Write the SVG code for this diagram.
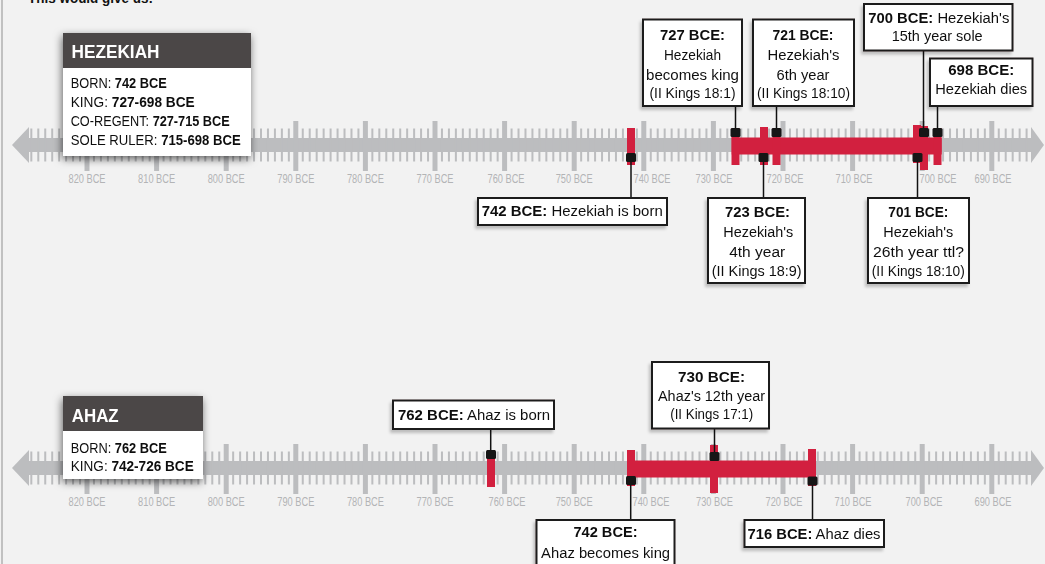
<svg xmlns="http://www.w3.org/2000/svg" xmlns:xlink="http://www.w3.org/1999/xlink" width="1045" height="564" viewBox="0 0 1045 564">
<style>
text{font-family:'Liberation Sans Narrow','Liberation Sans',Arial,sans-serif;}
.ax{font-size:12px;fill:#b3b4b6;text-anchor:middle;}
.cb{fill:#fff;stroke:#1e1c1c;stroke-width:2;}
.ct{font-size:14px;fill:#111;text-anchor:middle;}
.b{font-weight:bold;}
.hd{fill:#4b4746;}
.ht{font-size:18.5px;font-weight:bold;fill:#fff;}
.bt{font-size:14px;fill:#111;}
.red{fill:#d2203f;}
.mk{fill:#161616;}
.cn line{stroke:#111;stroke-width:1.5;}
</style>
<defs>
<filter id="sh" x="-20%" y="-30%" width="140%" height="160%">
<feDropShadow dx="-1" dy="3" stdDeviation="4" flood-color="#000" flood-opacity="0.6"/>
</filter>
<filter id="sh2" x="-20%" y="-30%" width="140%" height="160%">
<feDropShadow dx="-2" dy="3" stdDeviation="1.5" flood-color="#000" flood-opacity="0.22"/>
</filter>
<g id="axis">
<rect x="26" y="138" width="1006" height="14" fill="#bcbdbf"/>
<line x1="30.32" y1="145" x2="1028.6" y2="145" stroke="#bcbdbf" stroke-width="33" stroke-dasharray="2 4.96"/>
<line x1="84.5" y1="146" x2="994.4" y2="146" stroke="#bcbdbf" stroke-width="50" stroke-dasharray="5 64.6"/>
<polygon points="12,145 29,127 29,163" fill="#bcbdbf"/>
<polygon points="1031,127 1044,145 1031,163" fill="#bcbdbf"/>
</g>
</defs>
<rect width="1045" height="564" fill="#f2f2f2"/>
<line x1="2" y1="0" x2="2" y2="564" stroke="#a0a0a0" stroke-width="1.2"/>
<text x="28" y="2.5" class="b" font-size="14" textLength="125" lengthAdjust="spacingAndGlyphs" fill="#111">This would give us:</text>

<g id="timeline-hezekiah">
<use xlink:href="#axis"/>
<g>
<text class="ax" x="87" y="183" textLength="37" lengthAdjust="spacingAndGlyphs">820 BCE</text>
<text class="ax" x="156.6" y="183" textLength="37" lengthAdjust="spacingAndGlyphs">810 BCE</text>
<text class="ax" x="226.2" y="183" textLength="37" lengthAdjust="spacingAndGlyphs">800 BCE</text>
<text class="ax" x="295.8" y="183" textLength="37" lengthAdjust="spacingAndGlyphs">790 BCE</text>
<text class="ax" x="365.4" y="183" textLength="37" lengthAdjust="spacingAndGlyphs">780 BCE</text>
<text class="ax" x="435" y="183" textLength="37" lengthAdjust="spacingAndGlyphs">770 BCE</text>
<text class="ax" x="506" y="183" textLength="37" lengthAdjust="spacingAndGlyphs">760 BCE</text>
<text class="ax" x="574.2" y="183" textLength="37" lengthAdjust="spacingAndGlyphs">750 BCE</text>
<text class="ax" x="652" y="183" textLength="37" lengthAdjust="spacingAndGlyphs">740 BCE</text>
<text class="ax" x="714" y="183" textLength="37" lengthAdjust="spacingAndGlyphs">730 BCE</text>
<text class="ax" x="785" y="183" textLength="37" lengthAdjust="spacingAndGlyphs">720 BCE</text>
<text class="ax" x="854" y="183" textLength="37" lengthAdjust="spacingAndGlyphs">710 BCE</text>
<text class="ax" x="938" y="183" textLength="37" lengthAdjust="spacingAndGlyphs">700 BCE</text>
<text class="ax" x="993" y="183" textLength="37" lengthAdjust="spacingAndGlyphs">690 BCE</text>
</g>
<rect class="red" x="731.7" y="137.5" width="210" height="17"/>
<rect class="red" x="627" y="128" width="8" height="37"/>
<rect class="red" x="731.5" y="128" width="8" height="37"/>
<rect class="red" x="760" y="127" width="8" height="38"/>
<rect class="red" x="772.5" y="128" width="8" height="37"/>
<rect class="red" x="913" y="125" width="8" height="38"/>
<rect class="red" x="920" y="126" width="8" height="44"/>
<rect class="red" x="933.5" y="128" width="8" height="37"/>
<rect class="mk" x="626" y="153" width="10" height="9" rx="1.5"/>
<rect class="mk" x="730.5" y="128" width="10" height="9" rx="1.5"/>
<rect class="mk" x="758.5" y="153" width="10" height="9" rx="1.5"/>
<rect class="mk" x="771.5" y="128" width="10" height="9" rx="1.5"/>
<rect class="mk" x="912.5" y="153" width="10" height="9" rx="1.5"/>
<rect class="mk" x="919" y="128" width="10" height="9" rx="1.5"/>
<rect class="mk" x="932.5" y="128" width="10" height="9" rx="1.5"/>
</g>

<g id="timeline-ahaz">
<use xlink:href="#axis" transform="translate(0,323)"/>
<g>
<text class="ax" x="87" y="506" textLength="37" lengthAdjust="spacingAndGlyphs">820 BCE</text>
<text class="ax" x="156.6" y="506" textLength="37" lengthAdjust="spacingAndGlyphs">810 BCE</text>
<text class="ax" x="226.2" y="506" textLength="37" lengthAdjust="spacingAndGlyphs">800 BCE</text>
<text class="ax" x="295.8" y="506" textLength="37" lengthAdjust="spacingAndGlyphs">790 BCE</text>
<text class="ax" x="365.4" y="506" textLength="37" lengthAdjust="spacingAndGlyphs">780 BCE</text>
<text class="ax" x="435" y="506" textLength="37" lengthAdjust="spacingAndGlyphs">770 BCE</text>
<text class="ax" x="507" y="506" textLength="37" lengthAdjust="spacingAndGlyphs">760 BCE</text>
<text class="ax" x="574.2" y="506" textLength="37" lengthAdjust="spacingAndGlyphs">750 BCE</text>
<text class="ax" x="651" y="506" textLength="37" lengthAdjust="spacingAndGlyphs">740 BCE</text>
<text class="ax" x="714.5" y="506" textLength="37" lengthAdjust="spacingAndGlyphs">730 BCE</text>
<text class="ax" x="784" y="506" textLength="37" lengthAdjust="spacingAndGlyphs">720 BCE</text>
<text class="ax" x="853" y="506" textLength="37" lengthAdjust="spacingAndGlyphs">710 BCE</text>
<text class="ax" x="924" y="506" textLength="37" lengthAdjust="spacingAndGlyphs">700 BCE</text>
<text class="ax" x="993" y="506" textLength="37" lengthAdjust="spacingAndGlyphs">690 BCE</text>
</g>
<rect class="red" x="627" y="460.5" width="189" height="17"/>
<rect class="red" x="487" y="450" width="8" height="37"/>
<rect class="red" x="627" y="450" width="8" height="36"/>
<rect class="red" x="710" y="445" width="8" height="48"/>
<rect class="red" x="808" y="449" width="8" height="37"/>
<rect class="mk" x="486" y="450" width="10" height="9" rx="1.5"/>
<rect class="mk" x="626" y="476" width="10" height="9" rx="1.5"/>
<rect class="mk" x="709.5" y="452" width="10" height="9" rx="1.5"/>
<rect class="mk" x="807.5" y="476.5" width="10" height="9" rx="1.5"/>
</g>

<g id="connectors" class="cn">
<line x1="631" y1="162" x2="631" y2="198"/>
<line x1="735.5" y1="106" x2="735.5" y2="128"/>
<line x1="763.5" y1="162" x2="763.5" y2="198"/>
<line x1="776.5" y1="106" x2="776.5" y2="128"/>
<line x1="917.5" y1="162" x2="917.5" y2="198"/>
<line x1="923.5" y1="50.5" x2="923.5" y2="128"/>
<line x1="937.5" y1="106" x2="937.5" y2="128"/>
<line x1="490.7" y1="429" x2="490.7" y2="450"/>
<line x1="630.7" y1="485" x2="630.7" y2="520"/>
<line x1="714.5" y1="428.5" x2="714.5" y2="452"/>
<line x1="812.5" y1="485" x2="812.5" y2="520"/>
</g>

<g id="ev-727" filter="url(#sh2)">
<rect class="cb" x="643" y="19.5" width="99" height="86.5"/>
<text class="ct b" x="692.5" y="39.5" textLength="65" lengthAdjust="spacingAndGlyphs">727 BCE:</text>
<text class="ct" x="692.5" y="60" textLength="57" lengthAdjust="spacingAndGlyphs">Hezekiah</text>
<text class="ct" x="692.5" y="80" textLength="93" lengthAdjust="spacingAndGlyphs">becomes king</text>
<text class="ct" x="692.5" y="98" textLength="86" lengthAdjust="spacingAndGlyphs">(II Kings 18:1)</text>
</g>
<g id="ev-721" filter="url(#sh2)">
<rect class="cb" x="753" y="19.5" width="101" height="86.5"/>
<text class="ct b" x="803" y="39.5" textLength="61" lengthAdjust="spacingAndGlyphs">721 BCE:</text>
<text class="ct" x="803.5" y="60" textLength="72" lengthAdjust="spacingAndGlyphs">Hezekiah's</text>
<text class="ct" x="803" y="80" textLength="53" lengthAdjust="spacingAndGlyphs">6th year</text>
<text class="ct" x="803.5" y="98" textLength="93" lengthAdjust="spacingAndGlyphs">(II Kings 18:10)</text>
</g>
<g id="ev-700" filter="url(#sh2)">
<rect class="cb" x="864" y="4" width="148.5" height="46.5"/>
<text class="ct" x="938.8" y="22.5" textLength="141" lengthAdjust="spacingAndGlyphs"><tspan class="b">700 BCE:</tspan> Hezekiah's</text>
<text class="ct" x="937.2" y="41" textLength="91" lengthAdjust="spacingAndGlyphs">15th year sole</text>
</g>
<g id="ev-698" filter="url(#sh2)">
<rect class="cb" x="930" y="58.5" width="102.5" height="47.5"/>
<text class="ct b" x="981.2" y="74.5" textLength="66" lengthAdjust="spacingAndGlyphs">698 BCE:</text>
<text class="ct" x="981.2" y="93.5" textLength="92" lengthAdjust="spacingAndGlyphs">Hezekiah dies</text>
</g>
<g id="ev-742h" filter="url(#sh2)">
<rect class="cb" x="478" y="198" width="189" height="27"/>
<text class="ct" x="572.2" y="216" textLength="181" lengthAdjust="spacingAndGlyphs"><tspan class="b">742 BCE:</tspan> Hezekiah is born</text>
</g>
<g id="ev-723" filter="url(#sh2)">
<rect class="cb" x="708" y="198" width="97" height="85"/>
<text class="ct b" x="757.5" y="216.7" textLength="65" lengthAdjust="spacingAndGlyphs">723 BCE:</text>
<text class="ct" x="758.3" y="237" textLength="70" lengthAdjust="spacingAndGlyphs">Hezekiah's</text>
<text class="ct" x="757.2" y="257" textLength="56" lengthAdjust="spacingAndGlyphs">4th year</text>
<text class="ct" x="756.7" y="275.5" textLength="90" lengthAdjust="spacingAndGlyphs">(II Kings 18:9)</text>
</g>
<g id="ev-701" filter="url(#sh2)">
<rect class="cb" x="868" y="198" width="101" height="85"/>
<text class="ct b" x="918.3" y="216.7" textLength="60" lengthAdjust="spacingAndGlyphs">701 BCE:</text>
<text class="ct" x="918.3" y="237" textLength="70" lengthAdjust="spacingAndGlyphs">Hezekiah's</text>
<text class="ct" x="918.6" y="257" textLength="91" lengthAdjust="spacingAndGlyphs">26th year ttl?</text>
<text class="ct" x="918.3" y="275.5" textLength="93" lengthAdjust="spacingAndGlyphs">(II Kings 18:10)</text>
</g>
<g id="ev-762" filter="url(#sh2)">
<rect class="cb" x="393" y="400.5" width="161" height="28.5"/>
<text class="ct" x="474" y="419.5" textLength="152" lengthAdjust="spacingAndGlyphs"><tspan class="b">762 BCE:</tspan> Ahaz is born</text>
</g>
<g id="ev-730" filter="url(#sh2)">
<rect class="cb" x="652" y="362" width="117" height="66.5"/>
<text class="ct b" x="711.5" y="381.7" textLength="67" lengthAdjust="spacingAndGlyphs">730 BCE:</text>
<text class="ct" x="711.5" y="400.5" textLength="107" lengthAdjust="spacingAndGlyphs">Ahaz's 12th year</text>
<text class="ct" x="711.7" y="418.5" textLength="83" lengthAdjust="spacingAndGlyphs">(II Kings 17:1)</text>
</g>
<g id="ev-742a" filter="url(#sh2)">
<rect class="cb" x="536.5" y="520" width="138" height="52"/>
<text class="ct b" x="605.5" y="537" textLength="64" lengthAdjust="spacingAndGlyphs">742 BCE:</text>
<text class="ct" x="605.6" y="557.5" textLength="129" lengthAdjust="spacingAndGlyphs">Ahaz becomes king</text>
</g>
<g id="ev-716" filter="url(#sh2)">
<rect class="cb" x="744.5" y="520" width="139.5" height="27"/>
<text class="ct" x="814" y="538.5" textLength="133" lengthAdjust="spacingAndGlyphs"><tspan class="b">716 BCE:</tspan> Ahaz dies</text>
</g>

<g id="info-hezekiah" filter="url(#sh)">
<rect x="63" y="68" width="188" height="88" fill="#fff"/>
<rect class="hd" x="63" y="33" width="188" height="35"/>
<text class="ht" x="71.5" y="58.3" textLength="88" lengthAdjust="spacingAndGlyphs">HEZEKIAH</text>
<text class="bt" x="70.7" y="88" textLength="96" lengthAdjust="spacingAndGlyphs">BORN: <tspan class="b">742 BCE</tspan></text>
<text class="bt" x="70.7" y="107" textLength="124" lengthAdjust="spacingAndGlyphs">KING: <tspan class="b">727-698 BCE</tspan></text>
<text class="bt" x="70.7" y="126" textLength="159" lengthAdjust="spacingAndGlyphs">CO-REGENT: <tspan class="b">727-715 BCE</tspan></text>
<text class="bt" x="70.7" y="145" textLength="170" lengthAdjust="spacingAndGlyphs">SOLE RULER: <tspan class="b">715-698 BCE</tspan></text>
</g>
<g id="info-ahaz" filter="url(#sh)">
<rect x="63" y="431" width="140" height="48" fill="#fff"/>
<rect class="hd" x="63" y="396" width="140" height="35"/>
<text class="ht" x="71.7" y="421.7" textLength="47" lengthAdjust="spacingAndGlyphs">AHAZ</text>
<text class="bt" x="70.7" y="453.3" textLength="96" lengthAdjust="spacingAndGlyphs">BORN: <tspan class="b">762 BCE</tspan></text>
<text class="bt" x="70.7" y="471" textLength="123" lengthAdjust="spacingAndGlyphs">KING: <tspan class="b">742-726 BCE</tspan></text>
</g>
</svg>
